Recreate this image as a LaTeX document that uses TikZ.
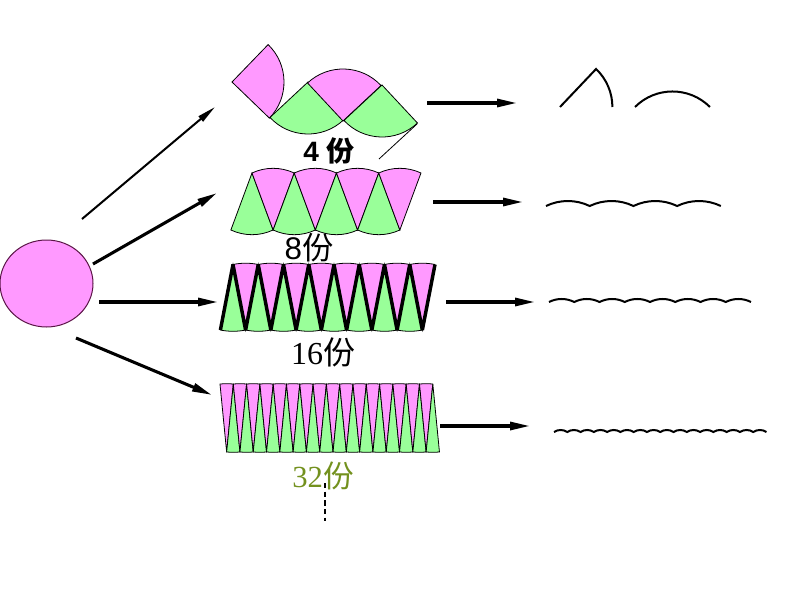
\documentclass[tikz,border=0pt]{standalone}
\usepackage{fontspec}
\setmainfont{Liberation Serif}
\setsansfont{Liberation Sans}
\newfontfamily\cjk{Noto Sans CJK SC}
\usetikzlibrary{arrows.meta,shapes.geometric}

\definecolor{pinkfill}{RGB}{255,153,255}
\definecolor{greenfill}{RGB}{153,255,153}
\definecolor{discline}{RGB}{90,20,70}
\definecolor{olivetext}{RGB}{115,145,30}

\tikzset{every picture/.style={line width=0.75pt},
  arr/.style={line width=2.3pt,-{Triangle[length=15pt,width=6pt]}},
  thinarr/.style={line width=1.5pt,-{Triangle[length=14pt,width=5pt]}},
  wave/.style={line width=1.5pt},
  part/.style={draw=black,line width=0.6pt},
  zig/.style={line width=2.6pt,line join=bevel},
  lbl/.style={inner sep=0.75pt,anchor=center}}

% sector: apex, direction, half angle, x radius, y radius, fill
\newcommand{\sector}[6]{%
  \filldraw[part,fill=#6] (#1) -- ++({#4*cos(#2-#3)},{#5*sin(#2-#3)})
    arc[start angle=#2-#3,end angle=#2+#3,x radius=#4,y radius=#5] -- cycle;}

\begin{document}
\begin{tikzpicture}[x=0.75pt,y=0.75pt,yscale=-1,xscale=1]
\path[use as bounding box] (0,0) rectangle (794,596);

%Shape: Ellipse
\node[ellipse,draw=discline,fill=pinkfill,inner sep=0pt,minimum width=69.75pt,minimum height=65.25pt] (disc) at (46.5,283.5) {};

%Arrow ends
\coordinate (s1) at (82,219);  \coordinate (e1) at (215,107);
\coordinate (s2) at (93,264);  \coordinate (e2) at (217,193);
\coordinate (s3) at (99,302);  \coordinate (e3) at (218,302);
\coordinate (s4) at (76,338);  \coordinate (e4) at (212,395);
\coordinate (r1a) at (427,103); \coordinate (r1b) at (517,103);
\coordinate (r2a) at (433,202); \coordinate (r2b) at (523,202);
\coordinate (r3a) at (446,302); \coordinate (r3b) at (535,302);
\coordinate (r4a) at (440,426); \coordinate (r4b) at (530,426);

%Straight Lines
\draw[thinarr] (s1) -- (e1);
\draw[arr] (s2) -- (e2);
\draw[arr] (s3) -- (e3);
\draw[arr] (s4) -- (e4);
\draw[arr] (r1a) -- (r1b);
\draw[arr] (r2a) -- (r2b);
\draw[arr] (r3a) -- (r3b);
\draw[arr] (r4a) -- (r4b);

%Shape: 4 parts
\sector{232,82}{-1}{45}{52}{52}{pinkfill}
\sector{308,82}{92}{45}{52}{52}{greenfill}
\sector{343,121}{-88}{45}{52}{52}{pinkfill}
\sector{382,85}{92}{45}{52}{52}{greenfill}
\draw[line width=0.6pt] (417,124) -- (379,159);

%Shape: 8 parts
\foreach \i in {0,...,3}{
  \sector{{252+42.25*\i},173}{90}{22.5}{55.2}{61.7}{greenfill}
  \sector{{273.1+42.25*\i},230}{-90}{22.5}{55.2}{61.7}{pinkfill}
}

%Shape: 16 parts
\foreach \i in {0,...,7}{
  \sector{{233+25.25*\i},264.5}{90}{11.25}{64.7}{66.8}{greenfill}
  \sector{{245.6+25.25*\i},330}{-90}{11.25}{64.7}{66.8}{pinkfill}
}
\draw[zig] (220.4,330) \foreach \i in {0,...,7}{ -- ({233+25.25*\i},264.5) -- ({245.6+25.25*\i},330) } -- (435,264.5);

%Shape: 32 parts
\foreach \i in {0,...,15}{
  \sector{{226.65+13.3*\i},452}{-90}{5.625}{67.9}{68.3}{pinkfill}
  \sector{{233.3+13.3*\i},384}{90}{5.625}{67.9}{68.3}{greenfill}
}

%Curves on the right
\draw[wave] (560,107) -- ++(-46.5:52.4) arc[start angle=-46.5,end angle=0,radius=52.4];
\draw[wave] (635,107) arc[start angle=-135,end angle=-45,radius=53];
\draw[wave] (546,206) \foreach \i in {1,...,4}{ arc[start angle=-115.7,end angle=-64.3,radius=50.4] };
\draw[wave] (549,302) \foreach \i in {1,...,8}{ arc[start angle=-116.8,end angle=-63.2,radius=28] };
\draw[wave] (554,432) \foreach \i in {1,...,16}{ arc[start angle=-123.6,end angle=-56.4,radius=12] };

%Dashed line
\draw[line width=1.8pt,dash pattern={on 4pt off 2.5pt}] (325,483) -- (325,521);

% Text Node
\node[lbl] (lab4) at (329,151) {\fontsize{21pt}{23pt}\selectfont\sffamily\bfseries 4 {\cjk 份}};
% Text Node
\node[lbl] (lab8) at (309,248) {\fontsize{23.5pt}{25pt}\selectfont\sffamily 8{\cjk 份}};
% Text Node
\node[lbl] (lab16) at (323,352) {\fontsize{24pt}{26pt}\selectfont 16{\cjk 份}};
% Text Node
\node[lbl,text=olivetext] (lab32) at (323,476) {\fontsize{23pt}{25pt}\selectfont 32{\cjk 份}};

\end{tikzpicture}
\end{document}
